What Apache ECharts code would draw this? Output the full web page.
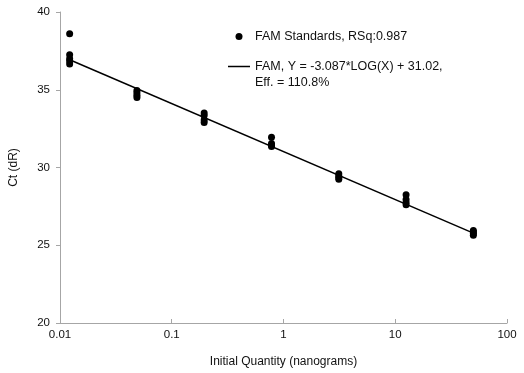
<!DOCTYPE html>
<html>
<head>
<meta charset="utf-8">
<script src="https://cdn.jsdelivr.net/npm/echarts@6/dist/echarts.min.js"></script>
<style>
  html, body { margin: 0; padding: 0; background: #fff; }
  #chart { width: 524px; height: 373px; }
</style>
</head>
<body>
<div id="chart"></div>
<script>
// 标准品浓度 (ng) 和每个浓度的重复 Ct 值
const quantities = [0.0122, 0.0488, 0.195, 0.781, 3.125, 12.5, 50];
const ctReplicates = [
  [38.6, 37.25, 37.0, 36.85, 36.65],
  [34.95, 34.8, 34.65, 34.5],
  [33.5, 33.35, 33.05, 32.9],
  [31.95, 31.55, 31.45, 31.35],
  [29.6, 29.45, 29.35, 29.25],
  [28.25, 27.95, 27.75, 27.6],
  [25.95, 25.85, 25.75, 25.65]
];
// 拟合线两端
const fitX = [0.0122, 50];
const fitY = [36.93, 25.78];
const xTicks = [0.01, 0.1, 1, 10, 100];
const yTicks = [20, 25, 30, 35, 40];

const scatterName = 'FAM Standards, RSq:0.987';
const lineName = 'FAM, Y = -3.087*LOG(X) + 31.02,';
const effText = 'Eff. = 110.8%';

const points = [];
quantities.forEach((q, i) => {
  ctReplicates[i].forEach(v => points.push([q, v]));
});
const fitData = fitX.map((x, i) => [x, fitY[i]]);

const font = 'Liberation Sans, Arial, sans-serif';
const chart = echarts.init(document.getElementById('chart'));
chart.setOption({
  animation: false,
  textStyle: { fontFamily: font },
  grid: { left: 58, right: 17, top: 12, bottom: 50 },
  legend: {
    orient: 'vertical',
    left: 223,
    top: 25,
    itemGap: 17,
    itemWidth: 22,
    itemHeight: 7,
    textStyle: { fontFamily: font, fontSize: 12.5, color: '#111' },
    data: [
      { name: scatterName, icon: 'circle' },
      { name: lineName, icon: 'path://M0 0H22V1.5H0Z' }
    ]
  },
  graphic: [{
    type: 'text',
    left: 255,
    top: 76,
    style: { text: effText, font: '12.5px ' + font, fill: '#111' }
  }],
  xAxis: {
    type: 'log',
    logBase: 10,
    min: xTicks[0],
    max: xTicks[xTicks.length - 1],
    name: 'Initial Quantity (nanograms)',
    nameLocation: 'middle',
    nameGap: 33,
    nameTextStyle: { fontSize: 12, color: '#111' },
    axisLine: { lineStyle: { color: '#a6a6a6' } },
    axisTick: { inside: true, length: 4, lineStyle: { color: '#a6a6a6' } },
    minorTick: { show: false },
    splitLine: { show: false },
    axisLabel: {
      fontSize: 11.5, color: '#111', margin: 6,
      formatter: v => String(xTicks.find(t => Math.abs(t - v) / t < 1e-6) ?? v)
    }
  },
  yAxis: {
    type: 'value',
    min: yTicks[0],
    max: yTicks[yTicks.length - 1],
    interval: 5,
    name: 'Ct (dR)',
    nameLocation: 'middle',
    nameGap: 40,
    nameTextStyle: { fontSize: 12, color: '#111' },
    axisLine: { show: true, lineStyle: { color: '#a6a6a6' } },
    axisTick: { show: true, length: 4, lineStyle: { color: '#a6a6a6' } },
    splitLine: { show: false },
    axisLabel: { fontSize: 11.5, color: '#111', margin: 10 }
  },
  series: [
    {
      name: scatterName,
      type: 'scatter',
      symbol: 'circle',
      symbolSize: 7,
      itemStyle: { color: '#000', opacity: 1 },
      data: points,
      z: 3
    },
    {
      name: lineName,
      type: 'line',
      symbol: 'none',
      lineStyle: { color: '#000', width: 1.5 },
      itemStyle: { color: '#000' },
      data: fitData,
      z: 2
    }
  ]
});
</script>
</body>
</html>
